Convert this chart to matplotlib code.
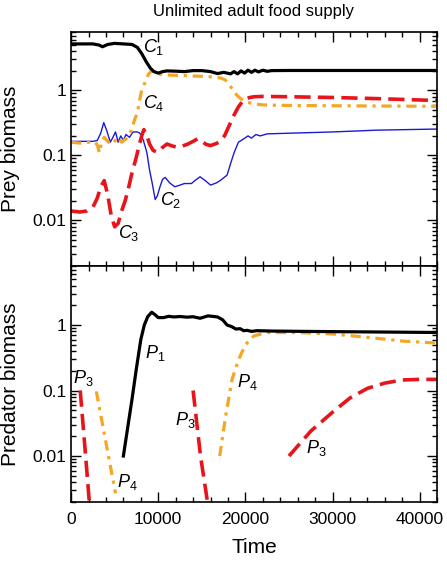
import matplotlib
matplotlib.use('Agg')
import matplotlib.pyplot as plt
from matplotlib.ticker import FixedLocator, FixedFormatter, LogLocator, MultipleLocator, NullFormatter

plt.rcParams['font.family'] = ['Liberation Sans', 'DejaVu Sans']
plt.rcParams['mathtext.fontset'] = 'custom'
plt.rcParams['mathtext.it'] = 'Liberation Sans:italic'
plt.rcParams['mathtext.rm'] = 'Liberation Sans'

# ---- prey (top panel) ----
c1_t = [0, 2500, 3200, 3600, 4200, 5000, 6000, 7000, 7600, 8100, 8600, 9100, 9500, 10000, 10500, 11000,
        12000, 13000, 14000, 15000, 16000, 16800, 17500, 18300, 18700, 19100, 19500, 19900, 20300,
        20700, 21100, 21500, 22000, 22500, 23000, 25000, 30000, 42000]
c1_v = [5.2, 5.2, 5.0, 4.7, 5.1, 5.3, 5.2, 5.1, 4.6, 3.7, 2.8, 2.2, 1.95, 1.85, 1.95, 2.0,
        1.98, 1.95, 2.02, 2.02, 1.95, 1.82, 1.9, 1.8, 1.95, 1.8, 2.0, 1.85, 2.05, 1.9, 2.05,
        1.93, 2.05, 1.97, 2.02, 2.03, 2.03, 2.03]

c2_t = [0, 2500, 3000, 3400, 3750, 4100, 4500, 4800, 5100, 5400, 5700, 6000, 6300, 6700, 7100, 7600,
        7900, 8300, 8700, 9000, 9300, 9650, 9900, 10200, 10500, 10800, 11300, 11900, 12500, 13000,
        13800, 14300, 14800, 15400, 16000, 16700, 17200, 17900, 18300, 18700, 19200, 19800, 20300,
        20700, 21200, 21700, 22500, 25000, 30000, 35000, 42000]
c2_v = [0.165, 0.165, 0.17, 0.22, 0.32, 0.24, 0.16, 0.19, 0.23, 0.16, 0.2, 0.17, 0.21, 0.19, 0.23, 0.23,
        0.22, 0.17, 0.11, 0.06, 0.038, 0.021, 0.024, 0.033, 0.043, 0.046, 0.038, 0.033, 0.035, 0.037,
        0.037, 0.042, 0.047, 0.041, 0.035, 0.038, 0.042, 0.05, 0.075, 0.11, 0.16, 0.18, 0.2,
        0.185, 0.21, 0.2, 0.215, 0.22, 0.23, 0.245, 0.255]

c3_t = [0, 1000, 1800, 2500, 3000, 3400, 3800, 4200, 4600, 5000, 5400, 5800, 6200, 6600, 7000, 7400,
        7800, 8100, 8350, 8700, 9000, 9400, 9900, 10400, 11000, 11600, 12200, 12800, 13400, 14000,
        14500, 15000, 15500, 16000, 16500, 17000, 17600, 18200, 18700, 19200, 19600, 20000, 20500,
        21000, 22000, 25000, 30000, 35000, 42000]
c3_v = [0.014, 0.0135, 0.014, 0.016, 0.022, 0.033, 0.041, 0.025, 0.012, 0.008, 0.009, 0.014, 0.02, 0.032,
        0.055, 0.085, 0.14, 0.2, 0.25, 0.2, 0.15, 0.12, 0.112, 0.13, 0.15, 0.14, 0.134, 0.14, 0.15, 0.165,
        0.18, 0.165, 0.148, 0.142, 0.15, 0.16, 0.2, 0.3, 0.42, 0.56, 0.66, 0.74, 0.78,
        0.8, 0.81, 0.8, 0.78, 0.75, 0.7]

c4_t = [0, 1000, 2000, 2800, 3050, 3250, 3500, 3800, 4300, 4800, 5300, 5800, 6300, 6900, 7300, 7600,
        7900, 8100, 8500, 8900, 9300, 9900, 10500, 11500, 12500, 13500, 14500, 15500, 16500, 17200,
        17700, 18100, 18500, 19000, 19500, 20200, 21000, 22000, 24000, 27000, 32000, 37000, 42000]
c4_v = [0.16, 0.155, 0.16, 0.16, 0.14, 0.11, 0.16, 0.19, 0.16, 0.15, 0.19, 0.16, 0.18, 0.24, 0.36, 0.45,
        0.75, 1.0, 1.35, 1.8, 2.03, 1.8, 1.74, 1.72, 1.7, 1.68, 1.66, 1.64, 1.6, 1.55,
        1.45, 1.25, 1.05, 0.85, 0.74, 0.66, 0.62, 0.6, 0.59, 0.585, 0.58, 0.575, 0.57]

# ---- predators (bottom panel) ----
p1_t = [6000, 7000, 7500, 8000, 8400, 8800, 9250, 9600, 10000, 10600, 11200, 11800, 12500, 13300, 14000,
        14800, 15300, 15700, 16200, 16800, 17400, 17900, 18400, 18900, 19400, 19800, 20200, 20700,
        21300, 23000, 27000, 32000, 37000, 42000]
p1_v = [0.01, 0.075, 0.22, 0.6, 1.0, 1.35, 1.57, 1.45, 1.3, 1.3, 1.36, 1.33, 1.35, 1.32, 1.34,
        1.27, 1.33, 1.38, 1.36, 1.33, 1.2, 1.0, 0.95, 0.87, 0.88, 0.82, 0.83, 0.8,
        0.82, 0.81, 0.8, 0.79, 0.78, 0.77]

p3a_t = [1050, 1600, 2150]
p3a_v = [0.1, 0.013, 0.0016]
p3b_t = [14000, 14850, 15700]
p3b_v = [0.1, 0.01, 0.0018]
p3c_t = [25000, 27500, 30100, 32000, 34000, 36000, 38000, 40000, 42000]
p3c_v = [0.01, 0.024, 0.048, 0.077, 0.108, 0.13, 0.145, 0.148, 0.148]

p4a_t = [2900, 4000, 5100]
p4a_v = [0.097, 0.016, 0.0027]
p4b_t = [17050, 17700, 18470, 19230, 20000, 20950, 22500, 26000, 30000, 34000, 38000, 42000]
p4b_v = [0.01, 0.038, 0.148, 0.3, 0.5, 0.68, 0.77, 0.77, 0.73, 0.65, 0.57, 0.53]

BLACK = 'black'
BLUE = '#1a1ad6'
RED = '#e8141b'
ORANGE = '#f5a623'

red_style = dict(color=RED, lw=2.6, dashes=(4.5, 2.0), dash_capstyle='butt')
orange_style = dict(color=ORANGE, lw=2.3, dashes=(3.2, 1.8, 1.0, 1.8), dash_capstyle='butt')

fig = plt.figure(figsize=(4.47, 5.67), dpi=100)
ax1 = fig.add_axes([0.159, 0.531, 0.819, 0.413])
ax2 = fig.add_axes([0.159, 0.115, 0.819, 0.416])

ax1.plot(c2_t, c2_v, color=BLUE, lw=1.0)
ax1.plot(c4_t, c4_v, **orange_style)
ax1.plot(c3_t, c3_v, **red_style)
ax1.plot(c1_t, c1_v, color=BLACK, lw=2.3)

ax2.plot(p3a_t, p3a_v, **red_style)
ax2.plot(p3b_t, p3b_v, **red_style)
ax2.plot(p3c_t, p3c_v, **red_style)
ax2.plot(p4a_t, p4a_v, **orange_style)
ax2.plot(p4b_t, p4b_v, **orange_style)
ax2.plot(p1_t, p1_v, color=BLACK, lw=2.3)

lab = dict(fontsize=13)
ax1.text(8300, 4.6, r'$\mathit{C_1}$', va='center', **lab)
ax1.text(8300, 0.64, r'$\mathit{C_4}$', va='center', **lab)
ax1.text(10200, 0.021, r'$\mathit{C_2}$', va='center', **lab)
ax1.text(5400, 0.0065, r'$\mathit{C_3}$', va='center', **lab)

ax2.text(8500, 0.37, r'$\mathit{P_1}$', va='center', **lab)
ax2.text(250, 0.158, r'$\mathit{P_3}$', va='center', **lab)
ax2.text(19050, 0.137, r'$\mathit{P_4}$', va='center', **lab)
ax2.text(5250, 0.004, r'$\mathit{P_4}$', va='center', **lab)
ax2.text(11950, 0.036, r'$\mathit{P_3}$', va='center', **lab)
ax2.text(26900, 0.0133, r'$\mathit{P_3}$', va='center', **lab)

for ax in (ax1, ax2):
    ax.set_yscale('log')
    ax.set_xlim(0, 42000)
    ax.set_ylim(0.002, 8)
    ax.yaxis.set_major_locator(FixedLocator([0.01, 0.1, 1]))
    ax.yaxis.set_major_formatter(FixedFormatter(['0.01', '0.1', '1']))
    ax.yaxis.set_minor_locator(LogLocator(base=10, subs=range(2, 10)))
    ax.yaxis.set_minor_formatter(NullFormatter())
    ax.xaxis.set_major_locator(MultipleLocator(10000))
    ax.xaxis.set_minor_locator(MultipleLocator(2000))
    ax.tick_params(which='both', direction='in', top=True, right=True, width=1.0)
    ax.tick_params(which='major', length=7, labelsize=12.5)
    ax.tick_params(which='minor', length=3.5)
    ax.tick_params(axis='x', which='major', pad=7)
    for s in ax.spines.values():
        s.set_linewidth(1.2)

ax1.tick_params(axis='x', labelbottom=False)
ax1.set_ylabel('Prey biomass', fontsize=15)
ax2.set_ylabel('Predator biomass', fontsize=15)
ax1.yaxis.set_label_coords(-0.14, 0.5)
ax2.yaxis.set_label_coords(-0.14, 0.5)
ax2.set_xlabel('Time', fontsize=15, labelpad=8)

fig.text(0.568, 0.979, 'Unlimited adult food supply', ha='center', va='center', fontsize=12)

fig.savefig('out.png', dpi=100)
